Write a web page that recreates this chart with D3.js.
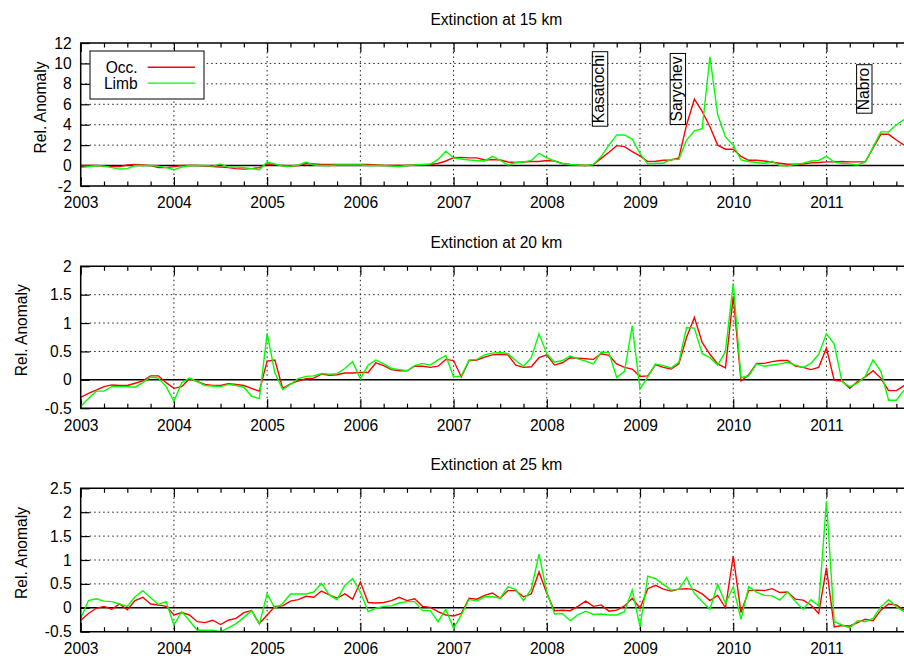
<!DOCTYPE html>
<html>
<head>
<meta charset="utf-8">
<script src="https://cdn.jsdelivr.net/npm/d3@7"></script>
<style>
  html, body { margin: 0; padding: 0; background: #fff; }
  svg { display: block; }
  text { font-family: "Liberation Sans", Arial, Helvetica, sans-serif; fill: #000; }
</style>
</head>
<body>
<svg id="chart" width="904" height="656"></svg>
<script>
// Monthly relative anomalies, Jan 2003 onwards (one value per month)
const startYear = 2003;
const nMonths = 107;

const occ15 = [0, 0, 0, -0.05, -0.1, -0.1, 0.05, 0.1, 0.05, 0, -0.2, -0.2,
  -0.1, 0, 0, 0, -0.05, -0.1, -0.15, -0.2, -0.3, -0.35, -0.3, -0.2,
  0.15, 0.1, 0, -0.05, 0, 0.2, 0.15, 0.1, 0.1, 0.1, 0.1, 0.1,
  0.1, 0.1, 0.05, 0, 0, 0, 0, 0.05, 0.05, 0.1, 0.2, 0.45,
  0.78, 0.8, 0.75, 0.75, 0.55, 0.58, 0.55, 0.35, 0.3, 0.35, 0.4, 0.4,
  0.5, 0.45, 0.2, 0.1, 0.05, 0, 0.1, 0.7, 1.3, 1.95, 1.85, 1.37,
  0.95, 0.4, 0.42, 0.52, 0.55, 0.75, 4.0, 6.5, 5.3, 3.8, 2.0, 1.6,
  1.6, 0.9, 0.52, 0.52, 0.45, 0.33, 0.23, 0.13, 0.13, 0.16, 0.26, 0.3,
  0.36, 0.36, 0.4, 0.36, 0.36, 0.36, 1.7, 3.06, 3.06, 2.5, 2.0];
const limb15 = [-0.2, -0.1, 0, -0.05, -0.2, -0.35, -0.3, 0, 0, 0, -0.05, -0.2,
  -0.4, -0.15, 0, 0, 0, -0.05, 0.15, -0.15, -0.15, -0.2, -0.3, -0.42,
  0.35, 0.15, -0.05, -0.05, 0.05, 0.35, 0.05, 0, 0, 0.05, 0.05, 0.05,
  0.05, 0, 0, 0, -0.05, -0.1, 0, 0.05, 0.1, 0.15, 0.6, 1.4,
  0.75, 0.65, 0.55, 0.5, 0.45, 0.9, 0.5, 0.05, 0.3, 0.35, 0.5, 1.2,
  0.75, 0.45, 0.2, 0.1, 0.05, 0, 0.1, 0.9, 2.0, 3.0, 3.0, 2.6,
  1.2, 0.15, 0.23, 0.23, 0.6, 0.62, 2.5, 3.4, 3.6, 10.65, 5.0, 2.8,
  2.0, 0.55, 0.4, 0.3, 0.23, 0.42, 0.0, -0.03, 0.13, 0.23, 0.45, 0.5,
  0.9, 0.33, 0.23, 0.16, 0.06, 0.33, 1.8, 3.3, 3.3, 4.0, 4.5];

const occ20 = [-0.31, -0.24, -0.18, -0.12, -0.09, -0.1, -0.1, -0.06, -0.02, 0.07, 0.07, -0.05,
  -0.15, -0.12, 0.02, -0.03, -0.08, -0.1, -0.1, -0.07, -0.08, -0.1, -0.15, -0.2,
  0.33, 0.35, -0.15, -0.07, -0.02, 0.02, 0.03, 0.1, 0.08, 0.09, 0.12, 0.12,
  0.13, 0.13, 0.3, 0.25, 0.18, 0.16, 0.16, 0.24, 0.24, 0.22, 0.24, 0.36,
  0.34, 0.05, 0.34, 0.35, 0.4, 0.44, 0.45, 0.44, 0.26, 0.22, 0.23, 0.39,
  0.44, 0.26, 0.3, 0.39, 0.38, 0.37, 0.36, 0.46, 0.43, 0.28, 0.22, 0.19,
  0.06, 0.07, 0.27, 0.22, 0.19, 0.28, 0.75, 1.1, 0.66, 0.45, 0.28, 0.21,
  1.47, -0.02, 0.09, 0.29, 0.29, 0.32, 0.34, 0.34, 0.24, 0.22, 0.18, 0.22,
  0.56, -0.01, -0.02, -0.15, -0.03, 0.05, 0.16, 0.03, -0.19, -0.19, -0.1];
const limb20 = [-0.47, -0.33, -0.2, -0.2, -0.12, -0.12, -0.12, -0.13, -0.05, 0.05, 0.03, -0.12,
  -0.38, -0.05, 0.03, -0.03, -0.1, -0.11, -0.12, -0.08, -0.1, -0.13, -0.29, -0.33,
  0.82, 0.12, -0.17, -0.08, 0.02, 0.06, 0.07, 0.11, 0.1, 0.11, 0.2, 0.32,
  0.02, 0.26, 0.35, 0.28, 0.2, 0.18, 0.16, 0.25, 0.29, 0.26, 0.35, 0.43,
  0.05, 0.07, 0.35, 0.36, 0.44, 0.47, 0.48, 0.46, 0.34, 0.24, 0.39, 0.81,
  0.46, 0.31, 0.34, 0.42, 0.37, 0.33, 0.28, 0.49, 0.48, 0.04, 0.15, 0.95,
  -0.16, 0.05, 0.28, 0.25, 0.21, 0.31, 0.92, 0.91, 0.46, 0.39, 0.26, 0.5,
  1.7, 0.04, 0.07, 0.28, 0.24, 0.26, 0.28, 0.31, 0.26, 0.22, 0.29, 0.45,
  0.81, 0.63, -0.03, -0.12, -0.06, 0.06, 0.35, 0.15, -0.36, -0.36, -0.18];

const occ25 = [-0.26, -0.12, -0.01, 0.03, -0.03, 0.08, -0.04, 0.15, 0.22, 0.08, 0.06, 0.03,
  -0.15, -0.1, -0.15, -0.29, -0.31, -0.26, -0.35, -0.26, -0.22, -0.1, -0.06, -0.33,
  -0.15, 0.03, 0.04, 0.14, 0.17, 0.24, 0.22, 0.35, 0.27, 0.2, 0.29, 0.18,
  0.54, 0.11, 0.1, 0.11, 0.15, 0.22, 0.15, 0.19, 0.03, 0.01, -0.08, -0.15,
  -0.17, -0.12, 0.2, 0.18, 0.26, 0.31, 0.2, 0.36, 0.36, 0.23, 0.29, 0.75,
  0.3, -0.06, -0.05, -0.06, 0.03, 0.14, 0.03, 0.06, -0.07, -0.05, 0.04, 0.2,
  -0.01, 0.4, 0.47, 0.39, 0.35, 0.39, 0.4, 0.38, 0.29, 0.15, 0.26, 0.0,
  1.08, -0.1, 0.36, 0.37, 0.36, 0.4, 0.32, 0.33, 0.18, 0.16, 0.06, -0.12,
  0.84, -0.4, -0.37, -0.38, -0.31, -0.24, -0.27, -0.05, 0.08, 0.06, -0.05];
const limb25 = [-0.22, 0.15, 0.19, 0.14, 0.13, 0.08, 0.03, 0.23, 0.36, 0.21, 0.07, 0.13,
  -0.36, -0.08, -0.27, -0.47, -0.47, -0.47, -0.5, -0.42, -0.33, -0.2, -0.06, -0.34,
  0.29, -0.01, 0.09, 0.29, 0.29, 0.29, 0.33, 0.51, 0.27, 0.17, 0.47, 0.61,
  0.33, -0.08, -0.01, 0.03, 0.04, 0.1, 0.13, 0.13, -0.06, -0.06, -0.29, -0.03,
  -0.43, -0.15, 0.18, 0.14, 0.23, 0.23, 0.2, 0.44, 0.38, 0.15, 0.39, 1.12,
  0.33, -0.13, -0.12, -0.27, -0.15, -0.07, -0.14, -0.13, -0.15, -0.15, -0.08, 0.37,
  -0.4, 0.66, 0.61, 0.49, 0.37, 0.39, 0.63, 0.3, 0.13, -0.03, 0.49, 0.09,
  0.44, -0.24, 0.44, 0.33, 0.26, 0.25, 0.16, 0.33, 0.13, -0.03, 0.17, 0.04,
  2.23, -0.29, -0.36, -0.42, -0.27, -0.29, -0.22, 0.02, 0.17, 0.02, -0.08];

const yearTicks = [2003, 2004, 2005, 2006, 2007, 2008, 2009, 2010, 2011];
const ticks15 = [-2, 0, 2, 4, 6, 8, 10, 12];
const ticks20 = [-0.5, 0, 0.5, 1, 1.5, 2];
const ticks25 = [-0.5, 0, 0.5, 1, 1.5, 2, 2.5];

const titles = ["Extinction at 15 km", "Extinction at 20 km", "Extinction at 25 km"];
const seriesNames = ["Occ.", "Limb"];
const seriesColors = ["#ff0000", "#00ff00"];

// Volcanic eruptions marked in the 15 km panel
const eruptionNames = ["Kasatochi", "Sarychev", "Nabro"];
const eruptionYears = [2008.57, 2009.405, 2011.405];
const eruptionLabelValue = 7.5;

// ---------------------------------------------------------------------------
const FONT = 15.6;
const svg = d3.select("#chart");
svg.append("rect").attr("width", 904).attr("height", 656).attr("fill", "#fff");

const months = d3.range(nMonths).map(k => startYear + k / 12);
const x = d3.scaleLinear()
  .domain([startYear, startYear + nMonths / 12])
  .range([80.7, 911.9]);

const panels = [
  { title: titles[0], occ: occ15, limb: limb15, ticks: ticks15, dom: [-2, 12],    top: 43,    bottom: 186,   ylabX: 40 },
  { title: titles[1], occ: occ20, limb: limb20, ticks: ticks20, dom: [-0.5, 2],   top: 266.3, bottom: 408.2, ylabX: 21 },
  { title: titles[2], occ: occ25, limb: limb25, ticks: ticks25, dom: [-0.5, 2.5], top: 488.3, bottom: 631.7, ylabX: 21 }
];

const quarterTicks = d3.range(startYear * 4, (startYear + 9) * 4)
  .map(q => q / 4)
  .filter(v => v % 1 !== 0 && v <= startYear + nMonths / 12);

panels.forEach((p, i) => {
  const y = d3.scaleLinear().domain(p.dom).range([p.bottom, p.top]);
  const [x0, x1] = x.range();
  const g = svg.append("g");

  const clipId = "clip" + i;
  svg.append("clipPath").attr("id", clipId)
    .append("rect").attr("x", x0).attr("y", p.top)
    .attr("width", x1 - x0).attr("height", p.bottom - p.top);

  // dotted grid
  const grid = g.append("g").attr("stroke", "#222").attr("stroke-width", 1)
    .attr("stroke-dasharray", "1.5,3");
  grid.selectAll("line.gy").data(p.ticks.filter(v => v !== p.dom[0] && v !== p.dom[1] && v !== 0))
    .join("line")
    .attr("x1", x0).attr("x2", x1)
    .attr("y1", d => y(d)).attr("y2", d => y(d));
  grid.selectAll("line.gx").data(yearTicks.filter(v => v !== startYear))
    .join("line")
    .attr("x1", d => x(d)).attr("x2", d => x(d))
    .attr("y1", p.top).attr("y2", p.bottom);

  // zero line
  g.append("line")
    .attr("x1", x0).attr("x2", x1)
    .attr("y1", y(0)).attr("y2", y(0))
    .attr("stroke", "#000").attr("stroke-width", 1.5);

  // axes (ticks point inward)
  const styleAxis = sel => {
    sel.select(".domain").remove();
    sel.selectAll(".tick line").attr("stroke", "#000").attr("stroke-width", 1.2);
    sel.selectAll(".tick text").attr("font-size", FONT).attr("font-family", null).attr("fill", "#000");
  };
  g.append("g").attr("transform", `translate(0,${p.bottom})`)
    .call(d3.axisBottom(x).tickValues(yearTicks).tickFormat(d3.format("d")).tickSize(-9).tickPadding(11.3))
    .call(styleAxis);
  g.append("g").attr("transform", `translate(0,${p.bottom})`)
    .call(d3.axisBottom(x).tickValues(quarterTicks).tickFormat("").tickSize(-4.5))
    .call(styleAxis);
  g.append("g").attr("transform", `translate(0,${p.top})`)
    .call(d3.axisTop(x).tickValues(yearTicks).tickFormat("").tickSize(-9))
    .call(styleAxis);
  g.append("g").attr("transform", `translate(0,${p.top})`)
    .call(d3.axisTop(x).tickValues(quarterTicks).tickFormat("").tickSize(-4.5))
    .call(styleAxis);
  g.append("g").attr("transform", `translate(${x0},0)`)
    .call(d3.axisLeft(y).tickValues(p.ticks).tickFormat(d => String(d)).tickSize(-9).tickPadding(9))
    .call(styleAxis);

  // series
  const line = d3.line().x((d, k) => x(months[k])).y(d => y(d));
  const lines = g.append("g").attr("clip-path", `url(#${clipId})`);
  [p.occ, p.limb].forEach((vals, s) => {
    lines.append("path").datum(vals)
      .attr("d", line)
      .attr("fill", "none")
      .attr("stroke", seriesColors[s])
      .attr("stroke-width", 1.4)
      .attr("stroke-linejoin", "miter");
  });

  // frame
  g.append("path")
    .attr("d", `M${x1},${p.top}H${x0}V${p.bottom}H${x1}`)
    .attr("fill", "none").attr("stroke", "#000").attr("stroke-width", 1.5);

  // title
  svg.append("text")
    .attr("x", (x0 + x1) / 2).attr("y", p.top - 24)
    .attr("text-anchor", "middle").attr("dominant-baseline", "central")
    .attr("font-size", FONT).text(p.title);

  // y axis label
  svg.append("text")
    .attr("transform", `translate(${p.ylabX},${(p.top + p.bottom) / 2 - 7}) rotate(-90)`)
    .attr("text-anchor", "middle").attr("dominant-baseline", "central")
    .attr("font-size", FONT).text("Rel. Anomaly");

  if (i === 0) {
    // legend
    const lg = svg.append("g");
    lg.append("rect").attr("x", 90).attr("y", 51).attr("width", 114).attr("height", 48)
      .attr("fill", "#fff").attr("stroke", "#000").attr("stroke-width", 1);
    seriesNames.forEach((name, s) => {
      const cy = 67.3 + s * 15.8;
      lg.append("text").attr("x", 137.7).attr("y", cy)
        .attr("text-anchor", "end").attr("dominant-baseline", "central")
        .attr("font-size", FONT).text(name);
      lg.append("line").attr("x1", 147.7).attr("x2", 195)
        .attr("y1", cy).attr("y2", cy)
        .attr("stroke", seriesColors[s]).attr("stroke-width", 1.4);
    });

    // eruption labels (rotated, boxed)
    eruptionNames.forEach((name, e) => {
      const cx = x(eruptionYears[e]);
      const cy = y(eruptionLabelValue);
      const t = svg.append("text")
        .attr("transform", `translate(${cx + 4.3},${cy}) rotate(-90)`)
        .attr("text-anchor", "middle")
        .attr("font-size", FONT).text(name);
      const len = t.node().getComputedTextLength();
      svg.insert("rect", () => t.node())
        .attr("x", cx - 7.6).attr("y", cy - len / 2 - 3)
        .attr("width", 15.4).attr("height", len + 6)
        .attr("fill", "#fff").attr("stroke", "#000").attr("stroke-width", 1);
    });
  }
});
</script>
</body>
</html>
